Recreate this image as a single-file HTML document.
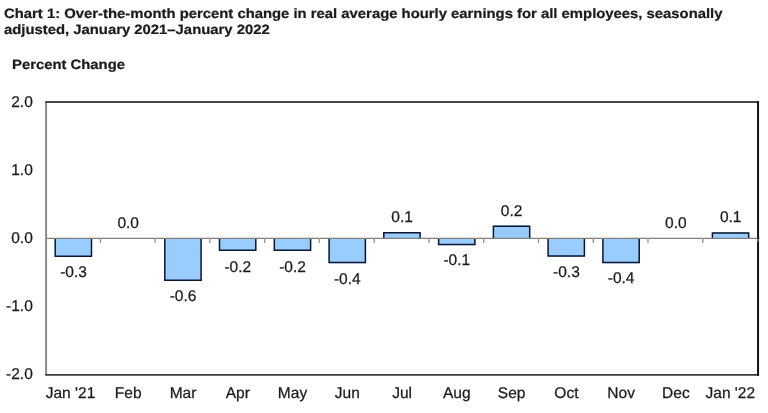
<!DOCTYPE html>
<html><head><meta charset="utf-8"><title>Chart 1</title>
<style>
html,body{margin:0;padding:0;background:#fff;}
body{width:768px;height:413px;overflow:hidden;position:relative;font-family:"Liberation Sans",Arial,sans-serif;color:#1a1a1a;}
svg{position:absolute;left:0;top:0;}
svg text.b{font-weight:bold;font-size:14.85px;fill:#1c1c1c;}
svg text{text-rendering:geometricPrecision;font-family:"Liberation Sans",Arial,sans-serif;font-size:15.5px;fill:#1a1a1a;stroke:#1a1a1a;stroke-width:0.25px;}
</style></head><body>
<svg width="768" height="413" viewBox="0 0 768 413">

<text class="b" transform="translate(4 17.8) scale(1 0.91)">Chart 1: Over-the-month percent change in real average hourly earnings for all employees, seasonally</text>
<text class="b" transform="translate(4 34.4) scale(1 0.91)">adjusted, January 2021–January 2022</text>
<text class="b" transform="translate(12 69.2) scale(1 0.91)">Percent Change</text>
<rect x="55.2" y="238.0" width="36.5" height="19.0" fill="#99ccff"/>
<path d="M55.2 238.0V256.3H91.5V238.0" fill="none" stroke="#0a1530" stroke-width="1.5"/>
<rect x="164.8" y="238.0" width="36.5" height="43.0" fill="#99ccff"/>
<path d="M164.8 238.0V280.3H201.1V238.0" fill="none" stroke="#0a1530" stroke-width="1.5"/>
<rect x="219.5" y="238.0" width="36.5" height="12.9" fill="#99ccff"/>
<path d="M219.5 238.0V250.2H255.8V238.0" fill="none" stroke="#0a1530" stroke-width="1.5"/>
<rect x="274.3" y="238.0" width="36.5" height="12.9" fill="#99ccff"/>
<path d="M274.3 238.0V250.2H310.6V238.0" fill="none" stroke="#0a1530" stroke-width="1.5"/>
<rect x="329.1" y="238.0" width="36.5" height="25.3" fill="#99ccff"/>
<path d="M329.1 238.0V262.6H365.4V238.0" fill="none" stroke="#0a1530" stroke-width="1.5"/>
<rect x="383.8" y="232.0" width="36.5" height="6.0" fill="#99ccff"/>
<path d="M383.8 238.0V232.7H420.1V238.0" fill="none" stroke="#0a1530" stroke-width="1.5"/>
<rect x="438.6" y="238.0" width="36.5" height="7.3" fill="#99ccff"/>
<path d="M438.6 238.0V244.6H474.9V238.0" fill="none" stroke="#0a1530" stroke-width="1.5"/>
<rect x="493.4" y="225.5" width="36.5" height="12.5" fill="#99ccff"/>
<path d="M493.4 238.0V226.2H529.7V238.0" fill="none" stroke="#0a1530" stroke-width="1.5"/>
<rect x="548.1" y="238.0" width="36.5" height="18.8" fill="#99ccff"/>
<path d="M548.1 238.0V256.1H584.4V238.0" fill="none" stroke="#0a1530" stroke-width="1.5"/>
<rect x="602.9" y="238.0" width="36.5" height="25.3" fill="#99ccff"/>
<path d="M602.9 238.0V262.6H639.2V238.0" fill="none" stroke="#0a1530" stroke-width="1.5"/>
<rect x="712.4" y="232.2" width="36.5" height="5.8" fill="#99ccff"/>
<path d="M712.4 238.0V232.9H748.7V238.0" fill="none" stroke="#0a1530" stroke-width="1.5"/>
<path d="M46.1 238.3H759.6" stroke="#808080" stroke-width="1.2" fill="none"/>
<path d="M100.4 238.0V243.0" stroke="#969696" stroke-width="1.4" fill="none"/>
<path d="M155.1 238.0V243.0" stroke="#969696" stroke-width="1.4" fill="none"/>
<path d="M209.9 238.0V243.0" stroke="#969696" stroke-width="1.4" fill="none"/>
<path d="M264.7 238.0V243.0" stroke="#969696" stroke-width="1.4" fill="none"/>
<path d="M319.4 238.0V243.0" stroke="#969696" stroke-width="1.4" fill="none"/>
<path d="M374.2 238.0V243.0" stroke="#969696" stroke-width="1.4" fill="none"/>
<path d="M429.0 238.0V243.0" stroke="#969696" stroke-width="1.4" fill="none"/>
<path d="M483.7 238.0V243.0" stroke="#969696" stroke-width="1.4" fill="none"/>
<path d="M538.5 238.0V243.0" stroke="#969696" stroke-width="1.4" fill="none"/>
<path d="M593.3 238.0V243.0" stroke="#969696" stroke-width="1.4" fill="none"/>
<path d="M648.0 238.0V243.0" stroke="#969696" stroke-width="1.4" fill="none"/>
<path d="M702.8 238.0V243.0" stroke="#969696" stroke-width="1.4" fill="none"/>
<path d="M46.1 102.05V374.85" stroke="#858585" stroke-width="1.9" fill="none"/>
<path d="M45.2 102.05H759.05" stroke="#484848" stroke-width="2" fill="none"/>
<path d="M45.2 374.85H759.05" stroke="#3a3a3a" stroke-width="1.8" fill="none"/>
<path d="M758.05 101.05V375.75" stroke="#111" stroke-width="2" fill="none"/>
<path d="M758.05 238.5V241.6" stroke="#666" stroke-width="2" fill="none"/>
<text transform="translate(32.8 106.9) scale(1 1.0)" text-anchor="end">2.0</text>
<text transform="translate(32.8 174.9) scale(1 1.0)" text-anchor="end">1.0</text>
<text transform="translate(32.8 242.9) scale(1 1.0)" text-anchor="end">0.0</text>
<text transform="translate(32.8 310.9) scale(1 1.0)" text-anchor="end">-1.0</text>
<text transform="translate(32.8 379.1) scale(1 1.0)" text-anchor="end">-2.0</text>
<text transform="translate(70.5 398.0) scale(1 1.0)" text-anchor="middle">Jan '21</text>
<text transform="translate(128.2 398.0) scale(1 1.0)" text-anchor="middle">Feb</text>
<text transform="translate(183.0 398.0) scale(1 1.0)" text-anchor="middle">Mar</text>
<text transform="translate(237.8 398.0) scale(1 1.0)" text-anchor="middle">Apr</text>
<text transform="translate(292.5 398.0) scale(1 1.0)" text-anchor="middle">May</text>
<text transform="translate(347.3 398.0) scale(1 1.0)" text-anchor="middle">Jun</text>
<text transform="translate(402.1 398.0) scale(1 1.0)" text-anchor="middle">Jul</text>
<text transform="translate(456.8 398.0) scale(1 1.0)" text-anchor="middle">Aug</text>
<text transform="translate(511.6 398.0) scale(1 1.0)" text-anchor="middle">Sep</text>
<text transform="translate(566.4 398.0) scale(1 1.0)" text-anchor="middle">Oct</text>
<text transform="translate(621.1 398.0) scale(1 1.0)" text-anchor="middle">Nov</text>
<text transform="translate(675.9 398.0) scale(1 1.0)" text-anchor="middle">Dec</text>
<text transform="translate(730.3 398.0) scale(1 1.0)" text-anchor="middle">Jan '22</text>
<text transform="translate(73.5 277.2) scale(1 1.0)" text-anchor="middle">-0.3</text>
<text transform="translate(128.2 228.3) scale(1 1.0)" text-anchor="middle">0.0</text>
<text transform="translate(183.0 301.1) scale(1 1.0)" text-anchor="middle">-0.6</text>
<text transform="translate(237.8 271.5) scale(1 1.0)" text-anchor="middle">-0.2</text>
<text transform="translate(292.5 271.5) scale(1 1.0)" text-anchor="middle">-0.2</text>
<text transform="translate(347.3 283.5) scale(1 1.0)" text-anchor="middle">-0.4</text>
<text transform="translate(402.1 221.7) scale(1 1.0)" text-anchor="middle">0.1</text>
<text transform="translate(456.8 265.2) scale(1 1.0)" text-anchor="middle">-0.1</text>
<text transform="translate(511.6 215.7) scale(1 1.0)" text-anchor="middle">0.2</text>
<text transform="translate(566.4 277.2) scale(1 1.0)" text-anchor="middle">-0.3</text>
<text transform="translate(621.1 283.3) scale(1 1.0)" text-anchor="middle">-0.4</text>
<text transform="translate(675.9 228.0) scale(1 1.0)" text-anchor="middle">0.0</text>
<text transform="translate(730.7 221.7) scale(1 1.0)" text-anchor="middle">0.1</text>
</svg></body></html>
